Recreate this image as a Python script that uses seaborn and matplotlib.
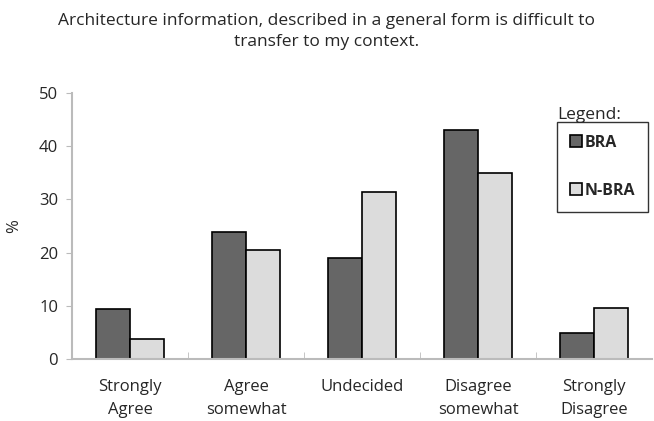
import matplotlib
matplotlib.use("Agg")
import matplotlib.pyplot as plt
import pandas as pd
import seaborn as sns

categories = ["Strongly\nAgree", "Agree\nsomewhat", "Undecided", "Disagree\nsomewhat", "Strongly\nDisagree"]
bra = [9.5, 23.9, 19.0, 43.0, 4.9]
nbra = [3.7, 20.5, 31.4, 35.0, 9.6]
groups = ["BRA", "N-BRA"]
colors = ["#666666", "#dcdcdc"]

df = pd.DataFrame({
    "category": categories * 2,
    "value": bra + nbra,
    "group": ["BRA"] * len(categories) + ["N-BRA"] * len(categories),
})

sns.set_style("white")
plt.rcParams["font.family"] = ["Open Sans", "DejaVu Sans"]

fig = plt.figure(figsize=(6.54, 4.21), dpi=100)
ax = fig.add_axes([0.110, 0.147, 0.887, 0.632])

sns.barplot(data=df, x="category", y="value", hue="group", order=categories,
            hue_order=groups, palette=colors, width=0.59, edgecolor="black",
            linewidth=1.2, saturation=1, ax=ax)

ax.set_ylim(0, 50)
ax.set_xlim(-0.5, 4.5)
ax.set_yticks([0, 10, 20, 30, 40, 50])
ax.tick_params(axis="y", labelsize=12, length=4, color="#bbbbbb", direction="out", left=True, pad=6)
ax.tick_params(axis="x", labelsize=12, length=0, pad=14)
for lbl in ax.get_xticklabels():
    lbl.set_linespacing(1.6)
ax.set_xticks([0.5, 1.5, 2.5, 3.5], minor=True)
ax.tick_params(axis="x", which="minor", length=5, color="#bbbbbb", direction="in", bottom=True)
for s in ["top", "right"]:
    ax.spines[s].set_visible(False)
for s in ["left", "bottom"]:
    ax.spines[s].set_color("#bbbbbb")
    ax.spines[s].set_linewidth(1.5)
ax.set_xlabel("")
ax.set_ylabel("%", fontsize=12, labelpad=12)

fig.text(0.5, 0.97, "Architecture information, described in a general form is difficult to\ntransfer to my context.",
         ha="center", va="top", fontsize=12.5, linespacing=1.45)

leg = ax.legend(loc="upper left", bbox_to_anchor=(557 / 654, 1 - 122 / 421),
                bbox_transform=fig.transFigure, borderaxespad=0, frameon=True,
                fancybox=False, edgecolor="black", handlelength=0.75, handleheight=0.75,
                labelspacing=2.0, borderpad=0.8, handletextpad=0.2,
                prop={"weight": "bold", "size": 11.5})
leg.get_frame().set_linewidth(1.0)
fig.text(557 / 654, 1 - 123 / 421, "Legend:", ha="left", va="bottom", fontsize=12.5)

fig.savefig("out.png", dpi=100)
